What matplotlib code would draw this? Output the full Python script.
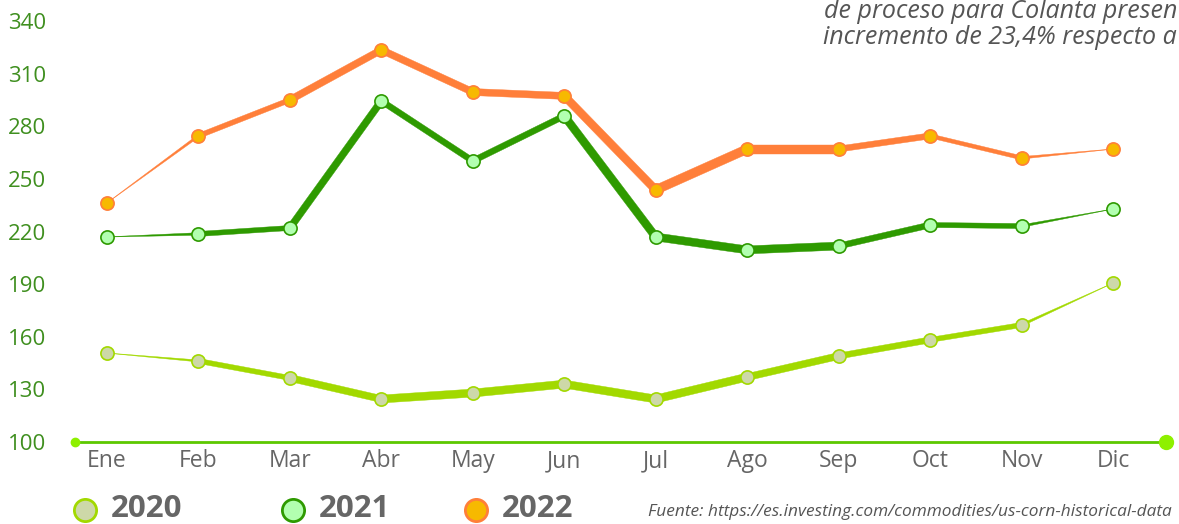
import numpy as np
import matplotlib.pyplot as plt
from matplotlib.patches import Polygon
from matplotlib.lines import Line2D

plt.rcParams["font.family"] = ["Open Sans", "DejaVu Sans"]

meses = ["Ene", "Feb", "Mar", "Abr", "May", "Jun", "Jul", "Ago", "Sep", "Oct", "Nov", "Dic"]
v2020 = [150.7, 146.2, 136.5, 124.5, 127.9, 133.0, 124.5, 137.0, 149.0, 158.2, 166.7, 190.6]
v2021 = [216.9, 218.6, 222.0, 294.4, 260.2, 285.9, 216.9, 209.5, 211.7, 223.7, 223.1, 232.8]
v2022 = [236.3, 274.5, 295.0, 323.5, 299.5, 297.3, 243.7, 267.0, 267.0, 274.5, 262.0, 267.0]
yticks = [100, 130, 160, 190, 220, 250, 280, 310, 340]
titulo = ["de proceso para Colanta presen", "incremento de 23,4% respecto a"]
fuente = "Fuente: https://es.investing.com/commodities/us-corn-historical-data"

# ancho de cada tramo (px)
w2020 = [2, 5, 7, 8, 8, 8, 8, 7, 6, 5, 2.5]
w2021 = [2.5, 5, 7, 6, 6, 8, 8, 8, 6, 5, 2.5]
w2022 = [2.5, 5, 7, 7, 7, 8, 9, 9, 6, 4, 2.5]

series = [
    ("2020", v2020, w2020, "#a2d900", "#cdd8a8", "#a2d900"),
    ("2021", v2021, w2021, "#2e9a00", "#b2ffb0", "#2e9a00"),
    ("2022", v2022, w2022, "#ff7f3a", "#f7b900", "#ff7f3a"),
]

W, H = 1179, 524
fig = plt.figure(figsize=(W / 100, H / 100), dpi=100)
ax = fig.add_axes([75 / W, (H - 442) / H, 1091 / W, 421 / H])
x = np.arange(len(meses))
ax.set_xlim(-0.35, 11.58)
ax.set_ylim(100, 340)
for s in ax.spines.values():
    s.set_visible(False)

ax.set_yticks(yticks)
ax.set_yticklabels([str(t) for t in yticks], color="#3f8f1f", fontsize=16)
ax.set_xticks(x)
ax.set_xticklabels(meses, color="#666666", fontsize=16.5)
ax.tick_params(axis="y", length=0, pad=21)
ax.tick_params(axis="x", length=0, pad=5)

# eje base
ax.axhline(100, color="#5cc800", lw=2, zorder=2, clip_on=False)
ax.plot([ax.get_xlim()[0]], [100], "o", ms=6, color="#8ef000", zorder=3, clip_on=False)
ax.plot([ax.get_xlim()[1]], [100], "o", ms=10, color="#8ef000", zorder=3, clip_on=False)

fig.canvas.draw()
toD = ax.transData
inv = toD.inverted()

for name, vals, widths, lc, fc, ec in series:
    pts = toD.transform(np.column_stack([x, vals]))
    n = len(pts)
    for i in range(n - 1):
        p0, p1 = pts[i], pts[i + 1]
        w0 = w1 = widths[i]
        if i == 0:
            w0 = 0.2
        if i == n - 2:
            w1 = 0.2
        d = p1 - p0
        nrm = np.array([-d[1], d[0]]) / np.hypot(*d)
        verts = [p0 + nrm * w0 / 2, p1 + nrm * w1 / 2, p1 - nrm * w1 / 2, p0 - nrm * w0 / 2]
        ax.add_patch(Polygon(inv.transform(verts), closed=True, facecolor=lc,
                             edgecolor=lc, lw=0.3, zorder=4))
    ax.plot(x, vals, "o", ms=9.5, markerfacecolor=fc, markeredgecolor=ec,
            markeredgewidth=1.2, zorder=5, linestyle="none")

# leyenda
leg_x = [85, 293, 476]
for (name, vals, widths, lc, fc, ec), lx in zip(series, leg_x):
    fig.add_artist(Line2D([lx / W], [(H - 510) / H], marker="o", ms=16,
                          markerfacecolor=fc, markeredgecolor=ec, markeredgewidth=2,
                          transform=fig.transFigure))
    fig.text((lx + 26) / W, (H - 509) / H, name, fontsize=22.5, fontweight="bold",
             color="#666666", va="center", ha="left")

fig.text(1172 / W, (H - 512) / H, fuente,
         fontsize=12.4, style="italic", color="#555555", ha="right", va="center")

fig.text(1177 / W, (H - 11) / H, titulo[0],
         fontsize=18, style="italic", color="#555555", ha="right", va="center")
fig.text(1177 / W, (H - 37) / H, titulo[1],
         fontsize=18, style="italic", color="#555555", ha="right", va="center")

fig.savefig("out.png", dpi=100, facecolor="white")
